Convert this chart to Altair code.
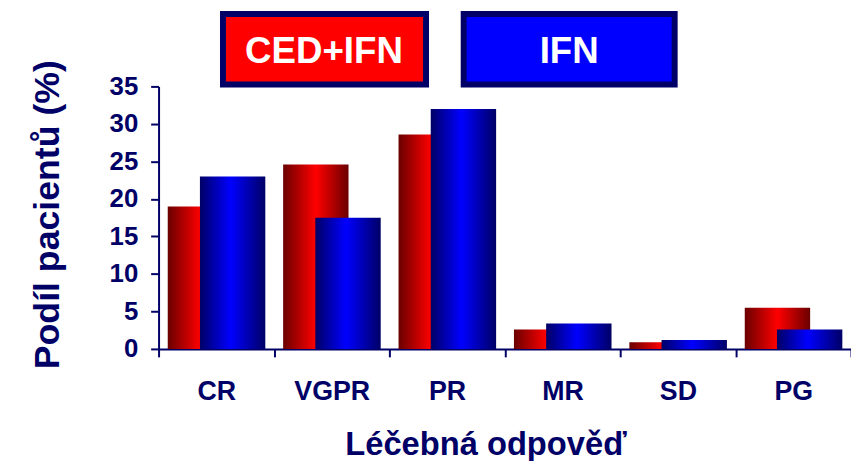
import altair as alt
import pandas as pd

categories = ["CR", "VGPR", "PR", "MR", "SD", "PG"]
ced_ifn = [19.0, 24.6, 28.6, 2.6, 0.9, 5.5]
ifn = [23.0, 17.5, 32.0, 3.4, 1.2, 2.6]
series_names = ["CED+IFN", "IFN"]
y_ticks = [0, 5, 10, 15, 20, 25, 30, 35]

x_title = "Léčebná odpověď"
y_title = "Podíl pacientů (%)"

NAVY = "#000066"
FONT = "Liberation Sans"

df = pd.DataFrame({"cat": categories, "ced": ced_ifn, "ifn": ifn})

red_grad = alt.LinearGradient(
    gradient="linear",
    stops=[alt.GradientStop(offset=0, color="#6a0000"),
           alt.GradientStop(offset=0.5, color="#ff0000"),
           alt.GradientStop(offset=1, color="#6a0000")],
    x1=0, x2=1, y1=0, y2=0)
blue_grad = alt.LinearGradient(
    gradient="linear",
    stops=[alt.GradientStop(offset=0, color="#000066"),
           alt.GradientStop(offset=0.47, color="#0000ff"),
           alt.GradientStop(offset=1, color="#000066")],
    x1=0, x2=1, y1=0, y2=0)

x_enc = alt.X("cat:N", sort=categories,
              scale=alt.Scale(paddingInner=0, paddingOuter=0),
              axis=alt.Axis(title=x_title, labelAngle=0, tickBand="extent",
                            tickSize=8, tickWidth=2, domainWidth=2,
                            labelPadding=43, labelBaseline="alphabetic",
                            labelFontSize=27, titleFontSize=33,
                            titleX=330, titleY=107, titleAlign="center",
                            titleBaseline="alphabetic"))


def y_enc(field):
    return alt.Y(field, type="quantitative",
                 scale=alt.Scale(domain=[0, 35], nice=False),
                 axis=alt.Axis(title=y_title, values=y_ticks, grid=False,
                               tickSize=8, tickWidth=2, domainWidth=2,
                               labelPadding=13, labelFontSize=26,
                               titleFontSize=36, titleAngle=270,
                               titleX=-101, titleY=129, titleAlign="center",
                               titleBaseline="alphabetic"))


base = alt.Chart(df)
red = base.mark_bar(width=66, xOffset=-16, color=red_grad).encode(x=x_enc, y=y_enc("ced"))
blue = base.mark_bar(width=66, xOffset=16.5, color=blue_grad).encode(x=x_enc, y=y_enc("ifn"))

one = alt.Chart(pd.DataFrame({"k": [0]}))
leg_red = one.mark_rect(fill="#ff0000", stroke=NAVY, strokeWidth=6).encode(
    x=alt.value(65), x2=alt.value(270), y=alt.value(-73), y2=alt.value(-2))
leg_blue = one.mark_rect(fill="#0000ff", stroke=NAVY, strokeWidth=6).encode(
    x=alt.value(308), x2=alt.value(521), y=alt.value(-73), y2=alt.value(-2))
txt_red = one.mark_text(text=series_names[0], color="white", font=FONT,
                        fontWeight="bold", fontSize=37, align="center",
                        baseline="alphabetic").encode(x=alt.value(167), y=alt.value(-24))
txt_blue = one.mark_text(text=series_names[1], color="white", font=FONT,
                         fontWeight="bold", fontSize=37, align="center",
                         baseline="alphabetic").encode(x=alt.value(414.5), y=alt.value(-24))

chart = alt.layer(red, blue, leg_red, leg_blue, txt_red, txt_blue).properties(
    width=699, height=265,
    autosize=alt.AutoSizeParams(type="none"),
    padding={"left": 152, "top": 77, "right": 0, "bottom": 111},
).configure_view(stroke=None).configure_axis(
    labelFont=FONT, titleFont=FONT, labelFontWeight="bold", titleFontWeight="bold",
    labelColor=NAVY, titleColor=NAVY, domainColor=NAVY, tickColor=NAVY,
)

chart.save("out.html", embed_options={"renderer": "svg", "actions": False})
